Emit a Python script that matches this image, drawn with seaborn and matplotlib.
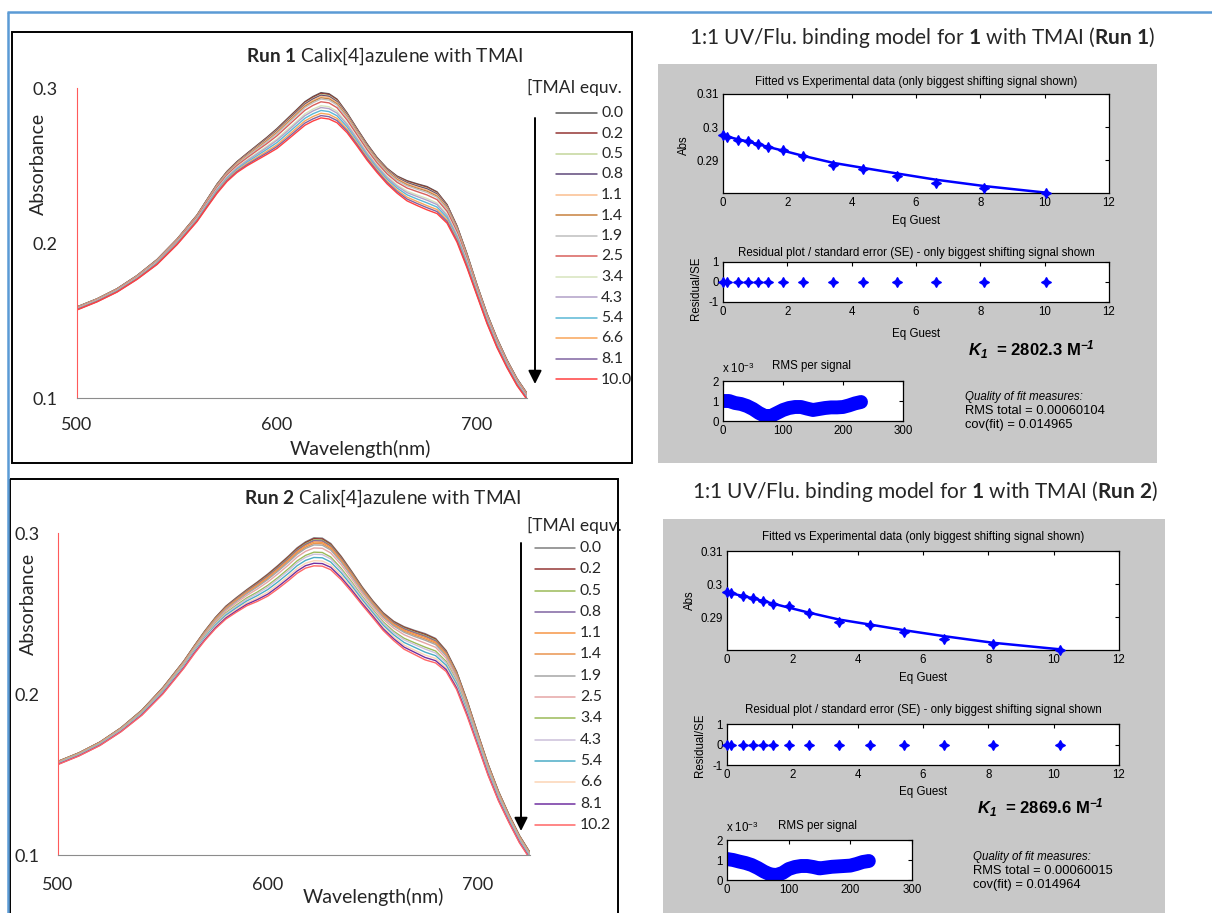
import numpy as np
import pandas as pd
import matplotlib
matplotlib.use("Agg")
import matplotlib.pyplot as plt
from matplotlib.patches import Rectangle
import seaborn as sns

# ---------------------------------------------------------------- data
# UV-vis titration spectra. Each row: one wavelength; each column: one TMAI
# addition (same order as the equivalents list). Values are absorbance x 10^4.
wavelength_nm = [500, 510, 520, 530, 540, 550, 560, 565, 570, 575, 580, 585, 590, 595,
                 600, 605, 610, 614, 618, 622, 626, 630, 635, 640, 645, 650, 655, 660,
                 665, 670, 675, 680, 685, 690, 695, 700, 705, 710, 715, 720, 725]

equiv_run1 = [0.0, 0.2, 0.5, 0.8, 1.1, 1.4, 1.9, 2.5, 3.4, 4.3, 5.4, 6.6, 8.1, 10.0]
absorbance_run1_e4 = [
    [1588, 1587, 1587, 1586, 1585, 1584, 1583, 1581, 1578, 1576, 1574, 1572, 1570, 1568],
    [1640, 1639, 1639, 1638, 1637, 1636, 1635, 1633, 1630, 1628, 1626, 1624, 1622, 1620],
    [1705, 1704, 1703, 1703, 1702, 1701, 1699, 1697, 1694, 1692, 1690, 1687, 1685, 1683],
    [1790, 1789, 1788, 1787, 1786, 1785, 1784, 1781, 1777, 1775, 1772, 1770, 1767, 1765],
    [1893, 1892, 1891, 1890, 1888, 1887, 1885, 1881, 1877, 1874, 1871, 1867, 1864, 1861],
    [2025, 2024, 2022, 2021, 2020, 2018, 2016, 2012, 2006, 2004, 2000, 1996, 1992, 1989],
    [2180, 2179, 2177, 2176, 2174, 2172, 2169, 2165, 2158, 2155, 2150, 2146, 2142, 2138],
    [2280, 2279, 2276, 2275, 2273, 2270, 2267, 2262, 2254, 2251, 2245, 2239, 2235, 2230],
    [2380, 2378, 2376, 2374, 2371, 2368, 2365, 2358, 2349, 2345, 2338, 2331, 2325, 2320],
    [2462, 2460, 2457, 2455, 2452, 2449, 2446, 2439, 2429, 2424, 2416, 2409, 2403, 2397],
    [2525, 2523, 2520, 2518, 2515, 2511, 2507, 2500, 2489, 2484, 2476, 2468, 2461, 2455],
    [2578, 2576, 2572, 2570, 2566, 2562, 2558, 2549, 2537, 2531, 2522, 2513, 2505, 2498],
    [2630, 2627, 2623, 2620, 2616, 2611, 2606, 2596, 2581, 2574, 2563, 2552, 2544, 2535],
    [2682, 2679, 2674, 2671, 2666, 2660, 2654, 2642, 2625, 2617, 2605, 2592, 2582, 2572],
    [2738, 2734, 2729, 2725, 2719, 2712, 2706, 2692, 2672, 2663, 2648, 2633, 2622, 2610],
    [2800, 2796, 2790, 2786, 2780, 2773, 2766, 2751, 2730, 2719, 2704, 2688, 2675, 2663],
    [2862, 2858, 2851, 2847, 2840, 2833, 2826, 2810, 2787, 2777, 2760, 2744, 2730, 2717],
    [2912, 2908, 2901, 2896, 2889, 2882, 2874, 2857, 2834, 2822, 2805, 2788, 2774, 2760],
    [2945, 2940, 2933, 2929, 2921, 2913, 2905, 2888, 2864, 2852, 2834, 2816, 2801, 2787],
    [2970, 2965, 2958, 2953, 2946, 2937, 2929, 2911, 2886, 2874, 2855, 2837, 2822, 2807],
    [2963, 2958, 2951, 2946, 2939, 2930, 2922, 2904, 2879, 2867, 2848, 2830, 2815, 2800],
    [2928, 2924, 2917, 2912, 2905, 2898, 2890, 2873, 2850, 2838, 2821, 2804, 2790, 2776],
    [2840, 2836, 2831, 2827, 2821, 2814, 2808, 2794, 2774, 2765, 2750, 2735, 2724, 2712],
    [2738, 2735, 2730, 2726, 2721, 2716, 2710, 2698, 2680, 2672, 2659, 2646, 2636, 2626],
    [2640, 2637, 2632, 2629, 2624, 2619, 2614, 2602, 2586, 2578, 2566, 2554, 2545, 2535],
    [2552, 2549, 2545, 2542, 2538, 2533, 2528, 2517, 2502, 2495, 2484, 2473, 2464, 2455],
    [2482, 2479, 2475, 2472, 2467, 2462, 2457, 2446, 2431, 2423, 2412, 2400, 2391, 2382],
    [2432, 2429, 2424, 2421, 2416, 2410, 2404, 2392, 2375, 2367, 2355, 2342, 2332, 2322],
    [2402, 2398, 2392, 2389, 2383, 2376, 2369, 2355, 2335, 2325, 2311, 2296, 2284, 2272],
    [2382, 2378, 2372, 2368, 2361, 2354, 2347, 2332, 2310, 2300, 2284, 2268, 2255, 2242],
    [2364, 2360, 2353, 2349, 2342, 2334, 2326, 2310, 2287, 2276, 2259, 2241, 2228, 2214],
    [2330, 2326, 2320, 2316, 2309, 2302, 2295, 2280, 2258, 2248, 2232, 2216, 2203, 2190],
    [2248, 2245, 2239, 2236, 2230, 2224, 2218, 2205, 2186, 2177, 2164, 2150, 2139, 2128],
    [2110, 2107, 2102, 2099, 2094, 2089, 2084, 2072, 2056, 2048, 2036, 2024, 2015, 2005],
    [1930, 1927, 1923, 1921, 1917, 1912, 1907, 1898, 1884, 1877, 1867, 1856, 1848, 1840],
    [1730, 1728, 1725, 1723, 1720, 1716, 1712, 1705, 1694, 1689, 1681, 1673, 1666, 1660],
    [1545, 1543, 1540, 1538, 1535, 1532, 1529, 1522, 1512, 1507, 1499, 1492, 1486, 1480],
    [1385, 1383, 1381, 1379, 1376, 1373, 1370, 1363, 1354, 1350, 1343, 1336, 1330, 1325],
    [1245, 1244, 1241, 1240, 1238, 1235, 1232, 1227, 1219, 1216, 1210, 1204, 1200, 1195],
    [1125, 1124, 1122, 1120, 1118, 1116, 1114, 1109, 1102, 1098, 1093, 1088, 1084, 1080],
    [1030, 1029, 1027, 1026, 1024, 1022, 1020, 1016, 1009, 1006, 1002, 997, 994, 990],
]

equiv_run2 = [0.0, 0.2, 0.5, 0.8, 1.1, 1.4, 1.9, 2.5, 3.4, 4.3, 5.4, 6.6, 8.1, 10.2]
absorbance_run2_e4 = [
    [1582, 1581, 1581, 1580, 1579, 1578, 1577, 1575, 1572, 1570, 1568, 1566, 1564, 1562],
    [1635, 1634, 1634, 1633, 1632, 1631, 1630, 1628, 1625, 1623, 1621, 1619, 1617, 1615],
    [1702, 1701, 1700, 1700, 1699, 1698, 1696, 1694, 1691, 1689, 1687, 1684, 1682, 1680],
    [1790, 1789, 1788, 1787, 1786, 1785, 1784, 1781, 1777, 1775, 1772, 1770, 1767, 1765],
    [1900, 1899, 1898, 1897, 1895, 1894, 1892, 1888, 1884, 1881, 1878, 1874, 1871, 1868],
    [2040, 2039, 2037, 2036, 2034, 2032, 2030, 2026, 2019, 2016, 2012, 2007, 2004, 2000],
    [2205, 2204, 2202, 2200, 2198, 2196, 2194, 2189, 2182, 2178, 2173, 2168, 2164, 2160],
    [2300, 2299, 2296, 2295, 2293, 2290, 2287, 2282, 2274, 2271, 2265, 2259, 2255, 2250],
    [2392, 2390, 2388, 2386, 2383, 2380, 2377, 2370, 2361, 2357, 2350, 2343, 2337, 2332],
    [2475, 2473, 2470, 2468, 2465, 2461, 2457, 2450, 2439, 2434, 2426, 2418, 2411, 2405],
    [2545, 2543, 2539, 2537, 2533, 2529, 2525, 2516, 2504, 2498, 2489, 2480, 2472, 2465],
    [2598, 2595, 2591, 2589, 2585, 2580, 2575, 2566, 2552, 2545, 2535, 2524, 2516, 2508],
    [2648, 2645, 2641, 2638, 2633, 2628, 2623, 2612, 2597, 2589, 2578, 2566, 2557, 2548],
    [2695, 2692, 2686, 2683, 2677, 2671, 2665, 2652, 2633, 2624, 2611, 2597, 2586, 2575],
    [2745, 2741, 2735, 2731, 2725, 2718, 2711, 2696, 2675, 2664, 2649, 2633, 2620, 2608],
    [2800, 2796, 2789, 2785, 2778, 2771, 2764, 2748, 2725, 2715, 2698, 2682, 2668, 2655],
    [2858, 2854, 2847, 2842, 2835, 2828, 2820, 2803, 2780, 2768, 2751, 2734, 2720, 2706],
    [2908, 2903, 2896, 2892, 2884, 2876, 2868, 2851, 2827, 2815, 2797, 2779, 2764, 2750],
    [2945, 2940, 2933, 2928, 2921, 2912, 2904, 2886, 2861, 2849, 2830, 2812, 2797, 2782],
    [2970, 2965, 2957, 2952, 2944, 2935, 2926, 2907, 2881, 2868, 2848, 2828, 2812, 2796],
    [2968, 2963, 2955, 2950, 2942, 2933, 2924, 2905, 2879, 2866, 2846, 2826, 2810, 2794],
    [2935, 2930, 2923, 2918, 2911, 2902, 2894, 2876, 2851, 2839, 2820, 2802, 2787, 2772],
    [2855, 2851, 2844, 2840, 2833, 2826, 2819, 2803, 2780, 2770, 2753, 2737, 2723, 2710],
    [2762, 2758, 2753, 2749, 2743, 2736, 2730, 2716, 2696, 2687, 2672, 2657, 2646, 2634],
    [2665, 2662, 2657, 2653, 2648, 2643, 2637, 2625, 2607, 2599, 2586, 2573, 2563, 2553],
    [2580, 2577, 2572, 2569, 2564, 2559, 2554, 2542, 2526, 2518, 2506, 2494, 2485, 2475],
    [2505, 2502, 2497, 2494, 2489, 2483, 2477, 2465, 2448, 2440, 2428, 2415, 2405, 2395],
    [2452, 2449, 2443, 2440, 2434, 2428, 2422, 2409, 2390, 2381, 2368, 2354, 2343, 2332],
    [2418, 2414, 2408, 2404, 2397, 2390, 2383, 2368, 2346, 2336, 2320, 2304, 2291, 2278],
    [2395, 2391, 2384, 2380, 2373, 2365, 2357, 2341, 2318, 2307, 2290, 2272, 2259, 2245],
    [2375, 2370, 2363, 2358, 2351, 2342, 2334, 2316, 2291, 2279, 2260, 2242, 2227, 2212],
    [2345, 2341, 2334, 2329, 2322, 2315, 2307, 2290, 2267, 2255, 2238, 2221, 2207, 2193],
    [2270, 2266, 2260, 2257, 2251, 2244, 2237, 2223, 2203, 2193, 2179, 2164, 2152, 2140],
    [2140, 2137, 2132, 2128, 2123, 2118, 2112, 2100, 2082, 2074, 2061, 2048, 2038, 2028],
    [1960, 1957, 1953, 1950, 1946, 1941, 1936, 1925, 1910, 1903, 1892, 1881, 1872, 1863],
    [1760, 1758, 1754, 1752, 1748, 1744, 1740, 1731, 1719, 1713, 1704, 1695, 1687, 1680],
    [1565, 1563, 1560, 1558, 1555, 1551, 1547, 1540, 1529, 1524, 1516, 1508, 1501, 1495],
    [1395, 1393, 1391, 1389, 1386, 1383, 1380, 1373, 1364, 1360, 1353, 1346, 1340, 1335],
    [1250, 1249, 1246, 1245, 1243, 1240, 1237, 1232, 1224, 1221, 1215, 1209, 1205, 1200],
    [1120, 1119, 1117, 1115, 1113, 1111, 1109, 1104, 1097, 1093, 1088, 1083, 1079, 1075],
    [1015, 1014, 1012, 1011, 1009, 1007, 1005, 1001, 994, 991, 987, 982, 979, 975],
]

# 1:1 binding fit (biggest shifting signal)
eq_guest_run1 = [0.00, 0.13, 0.48, 0.79, 1.10, 1.41, 1.86, 2.50, 3.43, 4.35, 5.41, 6.63, 8.12, 10.05]
abs_obs_run1 = [0.2975, 0.2970, 0.2962, 0.2957, 0.2949, 0.2940, 0.2931, 0.2912, 0.2885, 0.2872,
                0.2852, 0.2832, 0.2816, 0.2800]
abs_fit_run1 = [0.2974, 0.2971, 0.2963, 0.2956, 0.2948, 0.2940, 0.2929, 0.2913, 0.2892, 0.2877,
                0.2860, 0.2841, 0.2822, 0.2802]
resid_se_run1 = [0.0, 0.0, 0.0, 0.0, 0.0, 0.0, 0.0, 0.0, 0.0, 0.0, 0.0, 0.0, 0.0, 0.0]

eq_guest_run2 = [0.00, 0.13, 0.49, 0.80, 1.10, 1.41, 1.89, 2.50, 3.43, 4.37, 5.41, 6.63, 8.13, 10.20]
abs_obs_run2 = [0.2975, 0.2972, 0.2963, 0.2958, 0.2948, 0.2941, 0.2933, 0.2914, 0.2885, 0.2877,
                0.2855, 0.2834, 0.2818, 0.2801]
abs_fit_run2 = [0.2974, 0.2972, 0.2964, 0.2957, 0.2949, 0.2941, 0.2929, 0.2914, 0.2893, 0.2878,
                0.2861, 0.2843, 0.2823, 0.2803]
resid_se_run2 = [0.0, 0.0, 0.0, 0.0, 0.0, 0.0, 0.0, 0.0, 0.0, 0.0, 0.0, 0.0, 0.0, 0.0]

# RMS per signal (x 10^-3)
signal_index = [0, 10, 20, 30, 40, 50, 60, 70, 80, 90, 100, 110, 120, 130, 140, 150,
                160, 170, 180, 190, 200, 210, 220, 230]
rms_run1 = [1.00, 1.00, 0.90, 0.85, 0.75, 0.60, 0.40, 0.25, 0.25, 0.40, 0.55, 0.65,
            0.70, 0.70, 0.62, 0.55, 0.60, 0.65, 0.68, 0.68, 0.70, 0.78, 0.88, 0.95]
rms_run2 = [1.05, 1.00, 0.92, 0.85, 0.75, 0.60, 0.42, 0.28, 0.25, 0.35, 0.55, 0.65,
            0.70, 0.70, 0.65, 0.58, 0.62, 0.66, 0.68, 0.70, 0.72, 0.80, 0.90, 0.95]

k1_run1, k1_run2 = "2802.3", "2869.6"
rms_total_run1, rms_total_run2 = "0.00060104", "0.00060015"
cov_fit_run1, cov_fit_run2 = "0.014965", "0.014964"

colors_run1 = ["#595959", "#943634", "#c3d69b", "#5f497a", "#fabf8f", "#c8813e", "#bfbfbf",
               "#d9605c", "#d7e4bd", "#b2a1c7", "#5bb8d6", "#f9a65a", "#8064a2", "#ff4040"]
colors_run2 = ["#7f7f7f", "#953735", "#9bbb59", "#8064a2", "#f79646", "#e9954f", "#a6a6a6",
               "#e6a5a5", "#9bbb59", "#ccc0da", "#4bacc6", "#fcd5b5", "#7030a0", "#ff6666"]

# ---------------------------------------------------------------- style
sns.set_style("white")
plt.rcParams["font.family"] = ["Lato", "DejaVu Sans"]
plt.rcParams["mathtext.fontset"] = "custom"
plt.rcParams["mathtext.rm"] = "Lato"
plt.rcParams["mathtext.bf"] = "Lato:bold"
plt.rcParams["mathtext.it"] = "Lato:italic"
plt.rcParams["mathtext.sf"] = "Liberation Sans"
plt.rcParams["mathtext.bfit"] = "Liberation Sans:italic:bold"

MATLAB_FONT = ["Liberation Sans", "DejaVu Sans"]
TEXT_DARK = "#262626"
W, H = 1212, 913

fig = plt.figure(figsize=(W / 100, H / 100), dpi=100)
fig.patch.set_facecolor("white")

# full-figure pixel canvas for frames, legends and free text
canvas = fig.add_axes([0, 0, 1, 1])
canvas.set_xlim(0, W)
canvas.set_ylim(H, 0)
canvas.axis("off")


def px_axes(x0, y0, x1, y1):
    return fig.add_axes([x0 / W, 1 - y1 / H, (x1 - x0) / W, (y1 - y0) / H])


# page frame
canvas.plot([7, W], [12.5, 12.5], color="#5b9bd5", lw=1.8, solid_capstyle="butt")
canvas.plot([7.5, 7.5], [12, H], color="#5b9bd5", lw=1.8, solid_capstyle="butt")
canvas.add_patch(Rectangle((12, 32), 620, 431, fill=False, ec="black", lw=1.4))
canvas.add_patch(Rectangle((10, 479), 608, 450, fill=False, ec="black", lw=1.4))
canvas.add_patch(Rectangle((658, 64), 499, 399, fc="#c8c8c8", ec="none"))
canvas.add_patch(Rectangle((663, 519), 502, 420, fc="#c8c8c8", ec="none"))


# ---------------------------------------------------------------- spectra
def spectrum_panel(box, table_e4, equiv, colors, title, layout):
    ax = px_axes(*box)
    labels = [f"{e:.1f}" for e in equiv]
    rows = []
    for wl, values in zip(wavelength_nm, table_e4):
        for lab, a in zip(labels, values):
            rows.append((wl, a / 1e4, lab))
    df = pd.DataFrame(rows, columns=["wavelength", "absorbance", "equiv"])
    sns.lineplot(data=df, x="wavelength", y="absorbance", hue="equiv",
                 hue_order=labels, palette=colors, estimator=None,
                 linewidth=1.0, legend=False, ax=ax)
    ax.set_xlim(500, 725)
    ax.set_ylim(0.1, 0.3)
    ax.set_facecolor("none")
    ax.set_xlabel("")
    ax.set_ylabel("")
    for s in ("top", "right"):
        ax.spines[s].set_visible(False)
    ax.spines["left"].set_color("#ff5a5a")
    ax.spines["bottom"].set_color("#8c8c8c")
    ax.set_xticks([500, 600, 700])
    ax.set_xticks([520, 540, 560, 580, 620, 640, 660, 680, 720], minor=True)
    ax.set_yticks([0.1, 0.2, 0.3])
    ax.set_yticks([0.12, 0.14, 0.16, 0.18, 0.22, 0.24, 0.26, 0.28], minor=True)
    ax.set_yticklabels(["0.1", "0.2", "0.3"])
    ax.tick_params(axis="y", which="both", direction="out", length=6, width=0.8,
                   color="#ff5a5a", labelsize=13, pad=layout["ypad"], labelcolor=TEXT_DARK)
    ax.tick_params(axis="x", which="both", direction="out", length=5, width=0.8,
                   color="#8c8c8c", labelsize=13, pad=layout["xpad"], labelcolor=TEXT_DARK)

    canvas.text(*layout["title"], title, ha="center", va="center", fontsize=13.8,
                color=TEXT_DARK)
    canvas.text(*layout["xlabel"], "Wavelength(nm)", ha="center", va="center",
                fontsize=14, color=TEXT_DARK)
    canvas.text(*layout["ylabel"], "Absorbance", ha="center", va="center",
                rotation=90, fontsize=14, color=TEXT_DARK)

    # legend with downward arrow
    lx0, lx1, ltx = layout["legend_x"]
    y0, dy = layout["legend_y"]
    canvas.text(*layout["legend_title"], "[TMAI equv.", ha="left", va="center",
                fontsize=12.5, color=TEXT_DARK)
    for k, (lab, c) in enumerate(zip(labels, colors)):
        y = y0 + k * dy
        canvas.plot([lx0, lx1], [y, y], color=c, lw=1.1)
        canvas.text(ltx, y, lab, ha="left", va="center", fontsize=11.3, color=TEXT_DARK)
    ax_x, ay0, ay1 = layout["arrow"]
    canvas.annotate("", xy=(ax_x, ay1), xytext=(ax_x, ay0),
                    arrowprops=dict(arrowstyle="-|>", color="black", lw=1.4,
                                    mutation_scale=20, shrinkA=0, shrinkB=0))
    return ax


spectrum_panel((77, 88, 527, 398), absorbance_run1_e4, equiv_run1, colors_run1,
               r"$\mathbf{Run\ 1}$ Calix[4]azulene with TMAI",
               dict(title=(385, 56), xlabel=(360, 449), ylabel=(38, 164),
                    legend_title=(527, 87), legend_x=(556, 597, 601),
                    legend_y=(113, 20.5), arrow=(535, 118, 384), ypad=8, xpad=9))

spectrum_panel((58, 533, 530, 855), absorbance_run2_e4, equiv_run2, colors_run2,
               r"$\mathbf{Run\ 2}$ Calix[4]azulene with TMAI",
               dict(title=(383, 498), xlabel=(373, 897), ylabel=(28, 604),
                    legend_title=(527, 525), legend_x=(535, 575, 580),
                    legend_y=(548, 21.3), arrow=(521, 543, 831), ypad=7, xpad=11))


# ---------------------------------------------------------------- binding-fit panels
def matlab_style(ax, xticks, yticks, yticklabels, xlim, ylim):
    ax.set_facecolor("white")
    ax.set_xlim(*xlim)
    ax.set_ylim(*ylim)
    ax.set_xlabel("")
    ax.set_ylabel("")
    ax.set_xticks(xticks)
    ax.set_xticklabels([str(t) for t in xticks], fontfamily=MATLAB_FONT)
    ax.set_yticks(yticks)
    ax.set_yticklabels(yticklabels, fontfamily=MATLAB_FONT)
    for s in ax.spines.values():
        s.set_visible(True)
        s.set_color("black")
        s.set_linewidth(0.9)
    ax.tick_params(direction="in", top=True, right=True, length=3, width=0.8,
                   labelsize=8.3, pad=3, colors="black")


def mtext(x, y, s, **kw):
    kw.setdefault("fontsize", 8.3)
    kw.setdefault("ha", "center")
    kw.setdefault("va", "center")
    canvas.text(x, y, s, fontfamily=MATLAB_FONT, color="black", **kw)


def binding_panel(boxes, eq, obs, fit, resid, rms, k1, rms_total, cov, heading, text_pos):
    fit_box, res_box, rms_box = boxes

    ax = px_axes(*fit_box)
    sns.lineplot(x=eq, y=fit, color="#0000ff", linewidth=1.8, estimator=None, ax=ax)
    sns.scatterplot(x=eq, y=obs, color="#0000ff", marker=(4, 1, 0), s=46,
                    edgecolor="#0000ff", linewidth=1.1, clip_on=False, zorder=3, ax=ax)
    matlab_style(ax, [0, 2, 4, 6, 8, 10, 12], [0.29, 0.30, 0.31], ["0.29", "0.3", "0.31"],
                 (0, 12), (0.2801, 0.31))

    ax = px_axes(*res_box)
    sns.scatterplot(x=eq, y=resid, color="#0000ff", marker=(4, 1, 0), s=46,
                    edgecolor="#0000ff", linewidth=1.1, clip_on=False, zorder=3, ax=ax)
    matlab_style(ax, [0, 2, 4, 6, 8, 10, 12], [-1, 0, 1], ["-1", "0", "1"], (0, 12), (-1, 1))

    ax = px_axes(*rms_box)
    sns.lineplot(x=signal_index, y=rms, color="#0000ff", linewidth=10,
                 solid_capstyle="round", estimator=None, ax=ax)
    matlab_style(ax, [0, 100, 200, 300], [0, 1, 2], ["0", "1", "2"], (0, 300), (0, 2))

    t = text_pos
    mtext(*t["fit_title"], "Fitted vs Experimental data (only biggest shifting signal shown)")
    mtext(*t["fit_xlabel"], "Eq Guest")
    mtext(*t["fit_ylabel"], "Abs", rotation=90)
    mtext(*t["res_title"], "Residual plot / standard error (SE) - only biggest shifting signal shown")
    mtext(*t["res_xlabel"], "Eq Guest")
    mtext(*t["res_ylabel"], "Residual/SE", rotation=90)
    mtext(*t["rms_title"], "RMS per signal")
    mtext(*t["rms_scale"], r"x 10$^{\mathsf{-3}}$", ha="left")
    mtext(*t["k1"], r"$\mathbfit{K}_{\mathbfit{1}}$  = " + k1 + r" M$^{\mathbfit{-1}}$",
          ha="left", fontsize=12, fontweight="bold")
    qx, qy = t["quality"]
    mtext(qx, qy, "Quality of fit measures:", ha="left", style="italic")
    mtext(qx, qy + 14, f"RMS total = {rms_total}", ha="left", fontsize=9.3)
    mtext(qx, qy + 28, f"cov(fit) = {cov}", ha="left", fontsize=9.3)
    canvas.text(*t["heading"], heading, ha="center", va="center", fontsize=15,
                color=TEXT_DARK)


binding_panel(((723, 94, 1109, 193), (723, 262, 1109, 302), (723, 381, 903, 421)),
              eq_guest_run1, abs_obs_run1, abs_fit_run1, resid_se_run1, rms_run1,
              k1_run1, rms_total_run1, cov_fit_run1,
              r"1:1 UV/Flu. binding model for $\mathbf{1}$ with TMAI ($\mathbf{Run\ 1}$)",
              dict(fit_title=(916, 82), fit_xlabel=(916, 221), fit_ylabel=(684, 145),
                   res_title=(916, 253), res_xlabel=(916, 334), res_ylabel=(696, 288),
                   rms_title=(812, 366), rms_scale=(722, 369), k1=(968, 350),
                   quality=(965, 397), heading=(922, 37)))

binding_panel(((727, 551, 1119, 650), (727, 724, 1119, 765), (727, 840, 912, 880)),
              eq_guest_run2, abs_obs_run2, abs_fit_run2, resid_se_run2, rms_run2,
              k1_run2, rms_total_run2, cov_fit_run2,
              r"1:1 UV/Flu. binding model for $\mathbf{1}$ with TMAI ($\mathbf{Run\ 2}$)",
              dict(fit_title=(923, 537), fit_xlabel=(923, 678), fit_ylabel=(690, 600),
                   res_title=(923, 710), res_xlabel=(923, 792), res_ylabel=(700, 745),
                   rms_title=(818, 826), rms_scale=(726, 828), k1=(977, 808),
                   quality=(973, 857), heading=(925, 492)))

fig.savefig("out.png", dpi=100, facecolor="white")
